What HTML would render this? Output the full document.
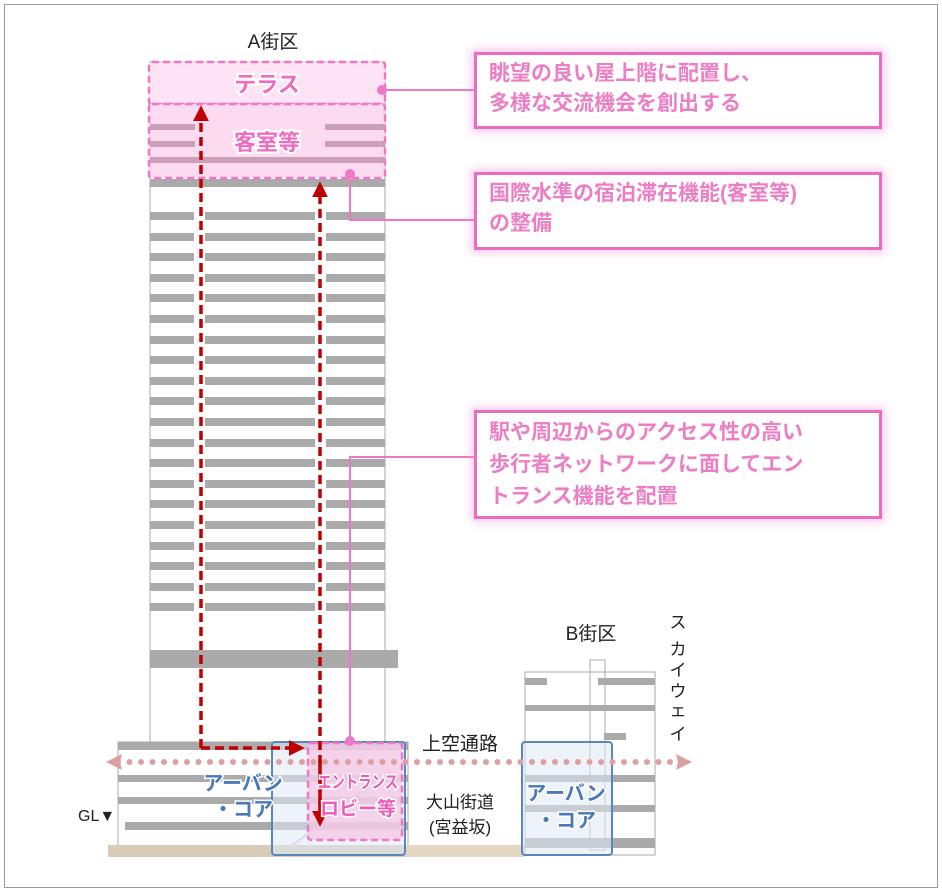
<!DOCTYPE html>
<html><head><meta charset="utf-8"><style>
body{margin:0;background:#fff;font-family:"Liberation Sans","Noto Sans CJK JP",sans-serif}
.box{position:absolute;border:3px solid #e86cc0;background:#fff;box-shadow:0 0 8px 3px rgba(240,140,210,.45);color:#ec7ec4;font-weight:bold;font-size:21px;line-height:30px;padding:4px 12px;box-sizing:border-box;font-family:"Liberation Sans","Noto Sans CJK JP",sans-serif}
</style></head><body>
<div style="position:absolute;left:4px;top:4px;width:932px;height:882px;border:1px solid #999"></div>
<svg width="942" height="893" style="position:absolute;left:0;top:0" font-family="Liberation Sans, Noto Sans CJK JP, sans-serif">
<defs>
<marker id="ar" markerWidth="4.5" markerHeight="4.5" refX="2" refY="2.25" orient="auto" markerUnits="strokeWidth"><path d="M0,0 L4.5,2.25 L0,4.5Z" fill="#c00000"/></marker>
</defs>
<rect x="150" y="62" width="235" height="680" fill="#fff" stroke="#aaa" stroke-width="1"/>
<rect x="150" y="179" width="235" height="8" fill="#aaa"/>
<g id="fl" fill="#aaa"></g>
<rect x="150" y="650" width="248" height="18" fill="#aaa"/>
<rect x="118" y="742" width="290" height="113" fill="#fff" stroke="#aaa"/>
<g fill="#aaa">
<rect x="118" y="742" width="290" height="8"/>
<rect x="118" y="775" width="290" height="7"/>
<rect x="118" y="797" width="290" height="7"/>
<rect x="125" y="822" width="283" height="8"/>
</g>
<rect x="108" y="845" width="300" height="12" fill="#d8cbb8"/>
<rect x="405" y="845" width="120" height="12" fill="#e4d8c4"/>
<line x1="280" y1="855" x2="390" y2="770" stroke="#ccc" stroke-width="2"/>
<line x1="530" y1="770" x2="640" y2="850" stroke="#ccc" stroke-width="2"/>
<rect x="525" y="672" width="130" height="183" fill="#fff" stroke="#aaa"/>
<rect x="590" y="660" width="15" height="190" fill="none" stroke="#aaa"/>
<g fill="#aaa">
<rect x="525" y="678" width="22" height="7"/><rect x="598" y="678" width="57" height="7"/>
<rect x="525" y="705" width="130" height="6"/>
<rect x="604" y="733" width="22" height="7"/>
<rect x="525" y="775" width="130" height="7"/>
<rect x="525" y="805" width="130" height="7"/>
<rect x="525" y="838" width="130" height="10"/>
</g>
<rect x="149" y="62" width="236" height="42" rx="3" fill="#fde0f2" fill-opacity=".9" stroke="#ee77c8" stroke-width="2.5" stroke-dasharray="7,4"/>
<rect x="149" y="104" width="236" height="74" rx="3" fill="#fcd4ec" fill-opacity=".85" stroke="#ee77c8" stroke-width="2.5" stroke-dasharray="7,4"/>
<g fill="#c9a0b8"><rect x="150" y="124" width="45" height="6"/><rect x="325" y="124" width="60" height="6"/><rect x="150" y="141" width="45" height="6"/><rect x="325" y="141" width="60" height="6"/><rect x="150" y="157" width="235" height="6"/></g>
<text x="267" y="92" text-anchor="middle" font-size="22" font-weight="bold" fill="#ee6cc0" stroke="#fff" stroke-width="4" paint-order="stroke">テラス</text>
<text x="267" y="150" text-anchor="middle" font-size="22" font-weight="bold" fill="#ee6cc0" stroke="#fff" stroke-width="4" paint-order="stroke">客室等</text>
<text x="273" y="48" text-anchor="middle" font-size="19" fill="#222">A街区</text>
<text x="591" y="640" text-anchor="middle" font-size="19" fill="#222">B街区</text>
<rect x="272" y="742" width="133" height="113" rx="3" fill="#dfe9f4" fill-opacity=".55" stroke="#5a86be" stroke-width="2"/>
<rect x="522" y="742" width="90" height="113" rx="3" fill="#dfe9f4" fill-opacity=".55" stroke="#5a86be" stroke-width="2"/>
<rect x="308" y="743" width="94" height="97" rx="3" fill="#f6c4e4" fill-opacity=".7" stroke="#ee77c8" stroke-width="2.5" stroke-dasharray="7,4"/>
<g stroke="#ee77c8" stroke-width="2" fill="none">
<path d="M382 90 H474"/><path d="M350 174 V220 H474"/><path d="M350 740 V457 H474"/>
</g>
<g fill="#ee77c8"><circle cx="382" cy="90" r="5"/><circle cx="350" cy="174" r="5"/><circle cx="350" cy="741" r="5"/></g>
<g stroke="#c00000" stroke-width="3.5" fill="none" stroke-dasharray="9,5">
<path d="M201 748 V114" marker-end="url(#ar)"/>
<path d="M201 748 H296" marker-end="url(#ar)"/>
<path d="M320 820 V190" marker-end="url(#ar)"/>
</g>
<path d="M320 760 V818" stroke="#c00000" stroke-width="3.5" stroke-dasharray="9,5" marker-end="url(#ar)"/>
<line x1="118" y1="762" x2="680" y2="762" stroke="#dca0a0" stroke-width="6" stroke-linecap="round" stroke-dasharray="0,11.5"/>
<path d="M106 762 L122 754 L120 762 L122 770Z" fill="#dca0a0"/>
<path d="M692 762 L676 754 L678 762 L676 770Z" fill="#dca0a0"/>
<text x="460" y="750" text-anchor="middle" font-size="19" fill="#222">上空通路</text>
<text x="460" y="808" text-anchor="middle" font-size="17" fill="#222">大山街道</text>
<text x="460" y="833" text-anchor="middle" font-size="17" fill="#222">(宮益坂)</text>
<g font-size="17" fill="#222" text-anchor="middle">
<text x="678" y="628">ス</text><text x="678" y="655">カ</text><text x="678" y="676">イ</text><text x="678" y="697">ウ</text><text x="678" y="716">ェ</text><text x="678" y="740">イ</text>
</g>
<text x="78" y="821" font-size="16" fill="#222">GL▼</text>
<g font-size="20" font-weight="bold" fill="#4a78b8" stroke="#fff" stroke-width="3" paint-order="stroke" text-anchor="middle">
<text x="243" y="790">アーバン</text><text x="243" y="816">・コア</text>
<text x="566" y="800">アーバン</text><text x="566" y="827">・コア</text>
</g>
<g font-size="17" font-weight="bold" fill="#ee5cb8" stroke="#fff" stroke-width="3" paint-order="stroke" text-anchor="middle">
<text x="358" y="788" textLength="80" lengthAdjust="spacingAndGlyphs">エントランス</text>
<text x="358" y="815" font-size="19">ロビー等</text>
</g>
</svg>
<script>
var g=document.getElementById('fl'),s='';
for(var y=212;y<=604;y+=20.6){var yy=Math.round(y);
s+='<rect x="150" y="'+yy+'" width="44" height="8"/><rect x="205" y="'+yy+'" width="110" height="8"/><rect x="326" y="'+yy+'" width="59" height="8"/>';}
g.innerHTML=s;
</script>
<div class="box" style="left:474px;top:52px;width:408px;height:77px">眺望の良い屋上階に配置し、<br>多様な交流機会を創出する</div>
<div class="box" style="left:474px;top:172px;width:408px;height:78px">国際水準の宿泊滞在機能(客室等)<br>の整備</div>
<div class="box" style="left:474px;top:410px;width:408px;height:109px;line-height:32px">駅や周辺からのアクセス性の高い<br>歩行者ネットワークに面してエン<br>トランス機能を配置</div>
</body></html>
